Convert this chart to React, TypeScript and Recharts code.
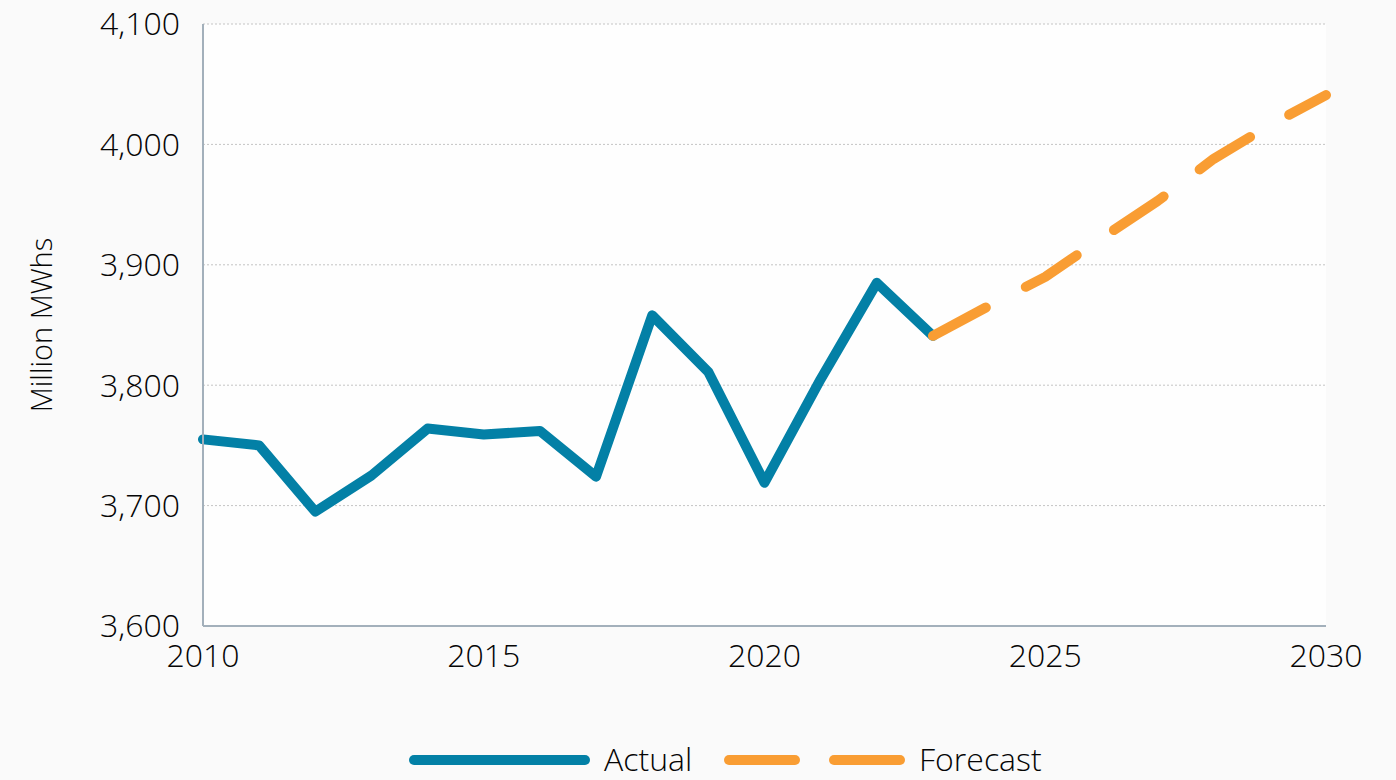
import React from 'react';
import { LineChart, Line, XAxis, YAxis, CartesianGrid, Legend } from 'recharts';

const years = [2010, 2011, 2012, 2013, 2014, 2015, 2016, 2017, 2018, 2019, 2020, 2021, 2022, 2023, 2024, 2025, 2026, 2027, 2028, 2029, 2030];
const actualValues = [3755, 3750, 3695, 3725, 3764, 3759, 3762, 3724, 3858, 3811, 3719, 3805, 3885, 3841];
const forecastYears = [2023, 2024, 2025, 2026, 2027, 2028, 2029, 2030];
const forecastValues = [3841, 3866, 3890, 3922, 3953, 3988, 4016, 4041];
const xTicks = [2010, 2015, 2020, 2025, 2030];
const yTicks = [3600, 3700, 3800, 3900, 4000, 4100];
const seriesNames = ['Actual', 'Forecast'];
const seriesColors = ['#0380A6', '#F99D33'];
const yAxisTitle = 'Million MWhs';

const data = years.map((year) => {
  const ai = year - 2010;
  const fi = forecastYears.indexOf(year);
  return {
    year,
    actual: ai < actualValues.length ? actualValues[ai] : null,
    forecast: fi >= 0 ? forecastValues[fi] : null,
  };
});

const FONT = '"Open Sans", "DejaVu Sans", sans-serif';
const TEXT = '#050505';
const WEIGHT = 300;
const LEGEND_H = 44;

const LegendContent = () => (
  <svg width={1396} height={LEGEND_H} style={{ display: 'block' }}>
    <line x1={414} y1={24} x2={585} y2={24} stroke={seriesColors[0]} strokeWidth={10} strokeLinecap="round" />
    <text x={604} y={35} fontSize={32} fontWeight={WEIGHT} fontFamily={FONT} fill={TEXT}>{seriesNames[0]}</text>
    <line x1={729} y1={24} x2={795} y2={24} stroke={seriesColors[1]} strokeWidth={10} strokeLinecap="round" />
    <line x1={834} y1={24} x2={900} y2={24} stroke={seriesColors[1]} strokeWidth={10} strokeLinecap="round" />
    <text x={919} y={35} fontSize={32} fontWeight={WEIGHT} fontFamily={FONT} fill={TEXT}>{seriesNames[1]}</text>
  </svg>
);

const YTitle = (props: any) => {
  const vb = props.viewBox || {};
  const cx = 40;
  const cy = (vb.y ?? 24) + (vb.height ?? 602) / 2;
  return (
    <text
      x={cx}
      y={cy}
      transform={`rotate(-90 ${cx} ${cy})`}
      textAnchor="middle"
      dominantBaseline="central"
      fontSize={29}
      fontWeight={WEIGHT}
      fontFamily={FONT}
      fill={TEXT}
    >
      {yAxisTitle}
    </text>
  );
};

export default function App() {
  return (
    <div style={{ position: 'absolute', left: 0, top: 0, width: 1396, height: 780, background: '#fafafa' }}>
      <LineChart width={1396} height={780} data={data} margin={{ top: 24, right: 70, bottom: 0, left: 0 }}>
        <CartesianGrid vertical={false} stroke="#c4c4c4" strokeDasharray="2 2" strokeWidth={1} fill="#fefefe" />
        <XAxis
          dataKey="year"
          type="number"
          domain={[2010, 2030]}
          ticks={xTicks}
          height={154 - LEGEND_H}
          axisLine={{ stroke: '#a3b0bb', strokeWidth: 2 }}
          tickLine={false}
          tickMargin={12}
          tick={{ fontSize: 32, fontWeight: WEIGHT, fontFamily: FONT, fill: TEXT }}
        />
        <YAxis
          type="number"
          domain={[3600, 4100]}
          ticks={yTicks}
          width={203}
          axisLine={{ stroke: '#a3b0bb', strokeWidth: 2 }}
          tickLine={false}
          tickMargin={17}
          tickFormatter={(v: number) => v.toLocaleString('en-US')}
          tick={{ fontSize: 32, fontWeight: WEIGHT, fontFamily: FONT, fill: TEXT }}
          label={<YTitle />}
        />
        <Legend verticalAlign="bottom" height={LEGEND_H} content={<LegendContent />} />
        <Line
          dataKey="actual"
          name={seriesNames[0]}
          stroke={seriesColors[0]}
          strokeWidth={10}
          dot={false}
          activeDot={false}
          strokeLinejoin="round"
          strokeLinecap="round"
          connectNulls={false}
          isAnimationActive={false}
        />
        <Line
          dataKey="forecast"
          name={seriesNames[1]}
          stroke={seriesColors[1]}
          strokeWidth={10}
          strokeDasharray="60 45"
          dot={false}
          activeDot={false}
          strokeLinejoin="round"
          strokeLinecap="round"
          connectNulls={false}
          isAnimationActive={false}
        />
      </LineChart>
    </div>
  );
}
